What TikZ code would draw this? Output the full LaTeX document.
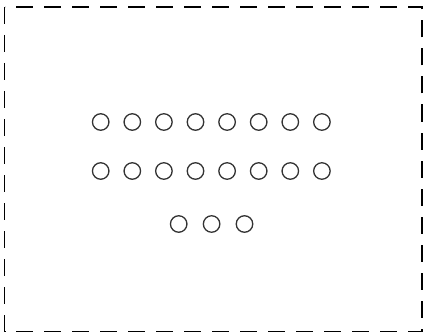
\documentclass[tikz,border=0pt]{standalone}
\usepackage{tikz}
\usetikzlibrary{positioning}

\begin{document}
\begin{tikzpicture}[x=1pt,y=-1pt,
  dot/.style={draw=black!80,circle,line width=1.3pt,minimum size=16.5pt,inner sep=0pt}]
\useasboundingbox (0,0) rectangle (425,334);
\draw[line width=1.8pt,dash pattern=on 17pt off 11pt] (4.5,7) rectangle (422,331.5);
% two rows of eight
\foreach \i in {1,...,8}{
  \node[dot] (a\i) at ({100.7+31.6*(\i-1)},122) {};
  \node[dot] (b\i) at ({100.7+31.6*(\i-1)},171) {};
}
% last row of three
\node[dot] (c1) at (178.7,224) {};
\node[dot,right=15.1pt of c1] (c2) {};
\node[dot,right=15.1pt of c2] (c3) {};
\end{tikzpicture}
\end{document}
